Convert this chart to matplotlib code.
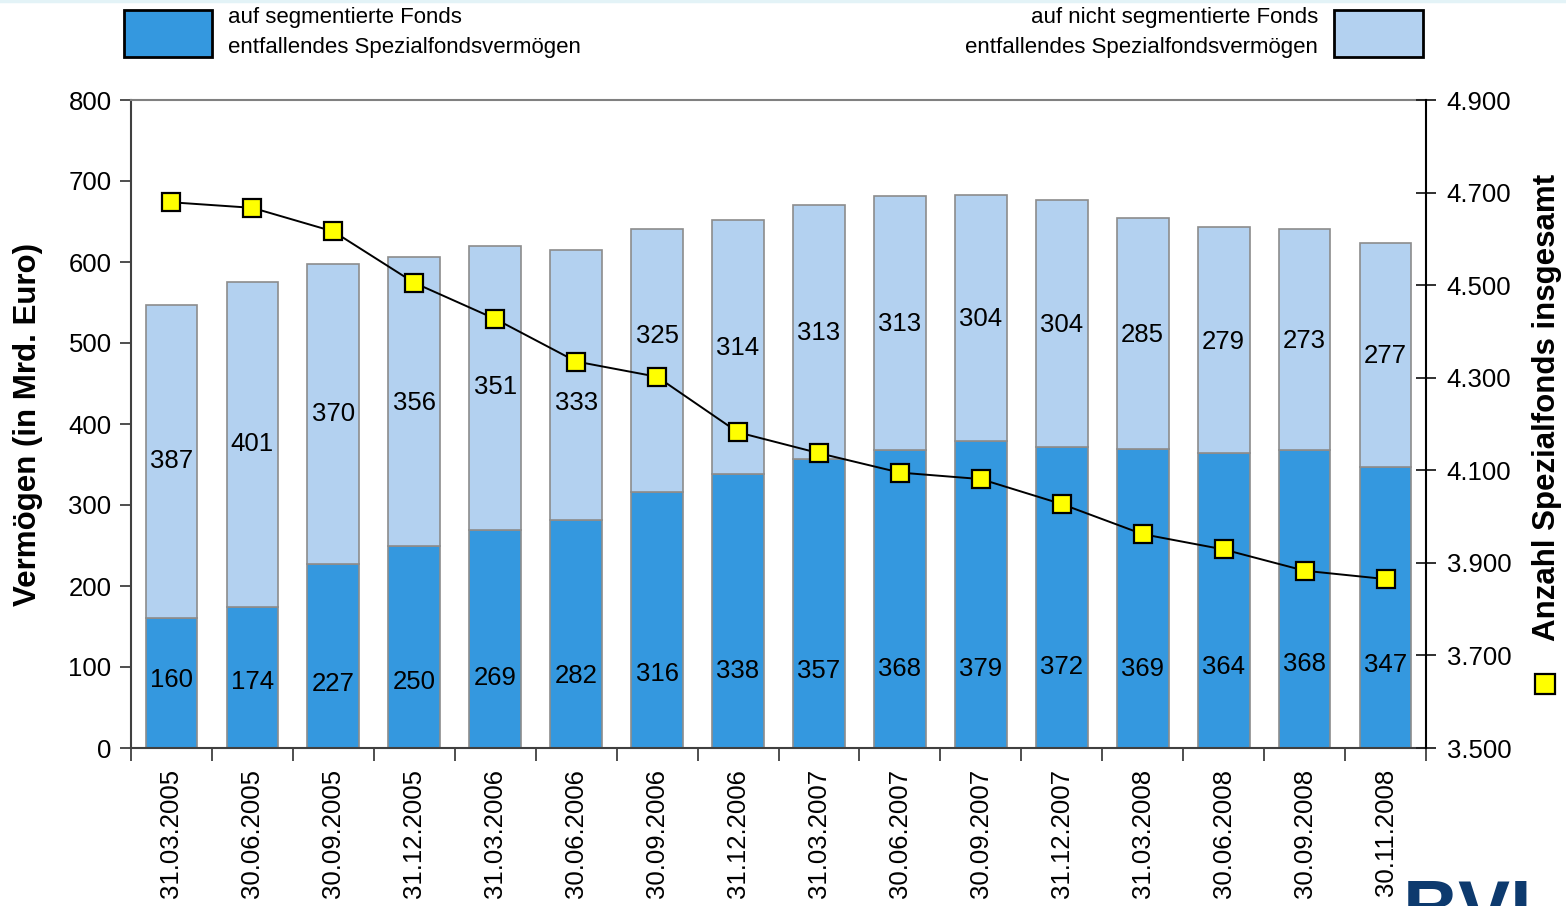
import matplotlib
matplotlib.use("Agg")
import matplotlib.pyplot as plt
from matplotlib.patches import Rectangle
from matplotlib.lines import Line2D
from matplotlib.ticker import FuncFormatter, FixedLocator, NullFormatter
import numpy as np

plt.rcParams['font.family'] = ['Liberation Sans', 'DejaVu Sans']

# ---- data ----
dates = ["31.03.2005", "30.06.2005", "30.09.2005", "31.12.2005",
         "31.03.2006", "30.06.2006", "30.09.2006", "31.12.2006",
         "31.03.2007", "30.06.2007", "30.09.2007", "31.12.2007",
         "31.03.2008", "30.06.2008", "30.09.2008", "30.11.2008"]
segmented = [160, 174, 227, 250, 269, 282, 316, 338,
             357, 368, 379, 372, 369, 364, 368, 347]
non_segmented = [387, 401, 370, 356, 351, 333, 325, 314,
                 313, 313, 304, 304, 285, 279, 273, 277]
fund_count = [4679, 4667, 4616, 4505, 4427, 4335, 4302, 4182,
              4137, 4095, 4081, 4027, 3962, 3929, 3883, 3865]

legend_seg = ["auf segmentierte Fonds", "entfallendes Spezialfondsvermögen"]
legend_nonseg = ["auf nicht segmentierte Fonds", "entfallendes Spezialfondsvermögen"]
ylabel_left = "Vermögen (in Mrd. Euro)"
ylabel_right = "Anzahl Spezialfonds insgesamt"

# label placement tweaks (positions only, in data units)
upper_label_shift = [1, 1, 0, -2, 1, -23, 30, -1, -1, -1, -1, -2, -2, -2, -2, -1]
lower_label_y = [84, 81, 79, 81, 86, 89, 91, 95, 95, 98, 98, 100, 98, 100, 104, 102]

# ---- style ----
DARK = "#3498DF"
LIGHT = "#B3D1F0"
EDGE = "#8C8C8C"
FS = 18.5

W, H = 1566, 906
fig = plt.figure(figsize=(W / 100, H / 100), dpi=100)
fig.patch.set_facecolor("white")

def fx(px):
    return px / W

def fy(py):
    return 1 - py / H

ax = fig.add_axes([fx(131), fy(748), fx(1426) - fx(131), fy(100) - fy(748)])
x = np.arange(len(dates))
bw = 0.64

ax.bar(x, segmented, width=bw, color=DARK, edgecolor=EDGE, linewidth=1.2, zorder=2)
ax.bar(x, non_segmented, bottom=segmented, width=bw, color=LIGHT,
       edgecolor=EDGE, linewidth=1.2, zorder=2)

for i in range(len(x)):
    ax.text(x[i], lower_label_y[i], str(segmented[i]), ha="center", va="center",
            fontsize=FS, color="black", zorder=3)
    ymid = segmented[i] + non_segmented[i] / 2 + upper_label_shift[i]
    ax.text(x[i], ymid, str(non_segmented[i]), ha="center", va="center",
            fontsize=FS, color="black", zorder=3)

ax.set_xlim(-0.5, len(dates) - 0.5)
ax.set_ylim(0, 800)
ax.set_yticks(np.arange(0, 801, 100))
ax.tick_params(axis="y", direction="out", length=8, width=1.3, labelsize=FS,
               pad=6, color="#404040")

ax.xaxis.set_major_locator(FixedLocator(np.arange(-0.5, len(dates), 1.0)))
ax.xaxis.set_major_formatter(NullFormatter())
ax.set_xticks(x, minor=True)
ax.set_xticklabels(dates, minor=True, rotation=90, fontsize=FS)
ax.tick_params(axis="x", which="major", direction="out", length=9, width=1.3, color="#404040")
ax.tick_params(axis="x", which="minor", length=0, pad=15)
for lbl in ax.get_xticklabels(minor=True):
    lbl.set_va("top")

ax.spines["left"].set_color("#404040")
ax.spines["left"].set_linewidth(1.5)
ax.spines["bottom"].set_color("#404040")
ax.spines["bottom"].set_linewidth(1.5)
ax.spines["top"].set_color("#808080")
ax.spines["top"].set_linewidth(1.5)
ax.spines["right"].set_visible(False)

# ---- right axis ----
ax2 = ax.twinx()
ax2.set_ylim(3500, 4900)
ax2.set_yticks(np.arange(3500, 4901, 200))
ax2.yaxis.set_major_formatter(FuncFormatter(lambda v, p: f"{int(v):,}".replace(",", ".")))
ax2.tick_params(axis="y", direction="inout", length=14, width=1.3, labelsize=FS, pad=8,
                color="#202020")
for s in ["left", "top", "bottom"]:
    ax2.spines[s].set_visible(False)
ax2.spines["right"].set_color("black")
ax2.spines["right"].set_linewidth(1.5)
ax2.plot(x, fund_count, color="black", linewidth=1.4, marker="s", markersize=13,
         markerfacecolor="#FFFF00", markeredgecolor="black", markeredgewidth=1.6, zorder=5)

# axis labels placed at figure positions
LBL = 22.5
fig.text(fx(28), fy(424), ylabel_left, rotation=90, ha="center", va="center",
         fontsize=LBL, fontweight="bold")
fig.text(fx(1547), fy(407), ylabel_right, rotation=90, ha="center", va="center",
         fontsize=LBL, fontweight="bold")
fig.add_artist(Line2D([fx(1545)], [fy(684)], marker="s", markersize=15,
                      markerfacecolor="#FFFF00", markeredgecolor="black",
                      markeredgewidth=1.6, linestyle="none", transform=fig.transFigure))

# ---- legend boxes ----
fig.add_artist(Rectangle((fx(124), fy(57)), fx(212) - fx(124), fy(10) - fy(57),
                         facecolor=DARK, edgecolor="black", linewidth=2,
                         transform=fig.transFigure))
fig.add_artist(Rectangle((fx(1334), fy(57)), fx(1423) - fx(1334), fy(10) - fy(57),
                         facecolor=LIGHT, edgecolor="black", linewidth=2,
                         transform=fig.transFigure))
LFS = 16
fig.text(fx(228), fy(17), legend_seg[0], ha="left", va="center", fontsize=LFS)
fig.text(fx(228), fy(48), legend_seg[1], ha="left", va="center", fontsize=LFS)
fig.text(fx(1318), fy(17), legend_nonseg[0], ha="right", va="center", fontsize=LFS)
fig.text(fx(1318), fy(48), legend_nonseg[1], ha="right", va="center", fontsize=LFS)

# thin light band at top
fig.add_artist(Line2D([0, 1], [fy(1), fy(1)], color="#E3F3F7", linewidth=2.5,
                      transform=fig.transFigure))

# logo fragment (cut by the lower edge, as in the original)
fig.text(fx(1403), fy(878), "BVI", ha="left", va="top", fontsize=56,
         fontweight="bold", color="#0D3A6E")

fig.savefig("out.png", dpi=100)
